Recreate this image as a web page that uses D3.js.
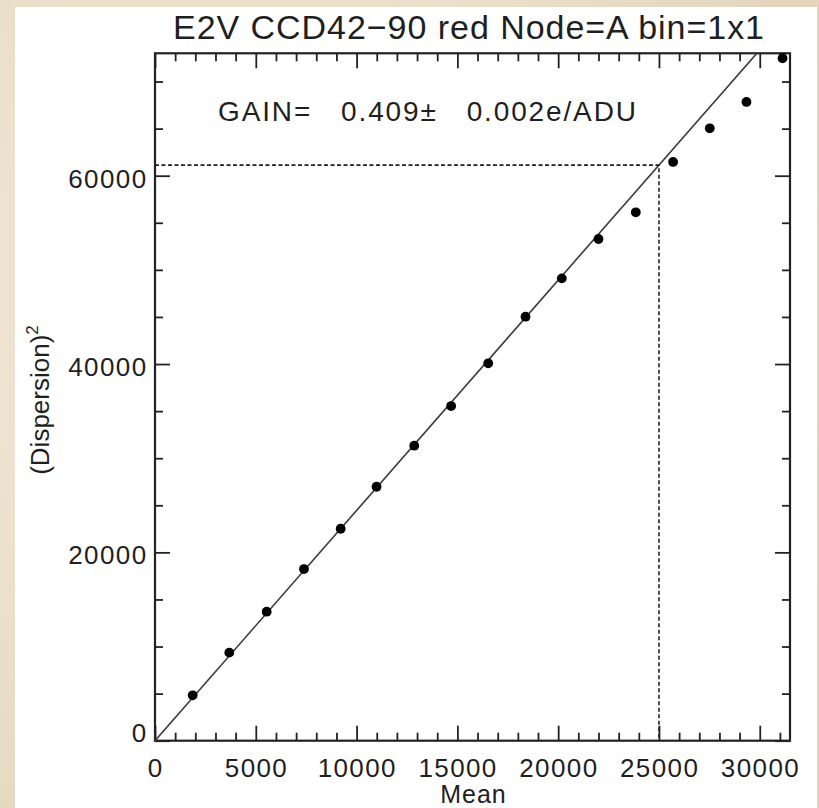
<!DOCTYPE html>
<html>
<head>
<meta charset="utf-8">
<script src="https://cdn.jsdelivr.net/npm/d3@7"></script>
<style>
  html, body { margin: 0; padding: 0; background: #ece1cd; }
  svg { display: block; }
  text { font-family: "Liberation Sans", Arial, sans-serif; fill: #1f1f1f; }
</style>
</head>
<body>
<svg id="chart" width="819" height="808"></svg>
<script>
// ---- data ----
const meanValues = [1870, 3685, 5540, 7390, 9210, 10990, 12860, 14690, 16530, 18380, 20180, 22000, 23850, 25700, 27520, 29340, 31130];
const dispersionSq = [4820, 9350, 13700, 18230, 22510, 26970, 31330, 35540, 40080, 45030, 49100, 53280, 56110, 61460, 65030, 67830, 72470];
const gain = 0.409;
const gainErr = 0.002;
const markerMean = 25000;
const xTickLabels = [0, 5000, 10000, 15000, 20000, 25000, 30000];
const yTickLabels = [0, 20000, 40000, 60000];
const xDomain = [0, 31500];
const yDomain = [0, 73000];
const titleText = "E2V CCD42\u221290 red Node=A bin=1x1";
const xLabel = "Mean";
const yLabel = "(Dispersion)";

const svg = d3.select("#chart");

// background with a soft marble-like feel
const defs = svg.append("defs");
const g1 = defs.append("radialGradient").attr("id", "bg1").attr("cx", "30%").attr("cy", "40%").attr("r", "80%");
g1.append("stop").attr("offset", "0%").attr("stop-color", "#f2eadb");
g1.append("stop").attr("offset", "60%").attr("stop-color", "#eadfca");
g1.append("stop").attr("offset", "100%").attr("stop-color", "#e3d5bc");
svg.append("rect").attr("width", 819).attr("height", 808).attr("fill", "url(#bg1)");

// white sheet
svg.append("rect").attr("x", 15).attr("y", 7).attr("width", 802).attr("height", 801).attr("fill", "#ffffff");

const L = 155, R = 790, B = 740.7;
const x = d3.scaleLinear().domain(xDomain).range([L, R]);
const yScaleK = (B - 175.7) / 60000;
const T = B - yDomain[1] * yScaleK;
const y = d3.scaleLinear().domain(yDomain).range([B, T]);

const clip = defs.append("clipPath").attr("id", "plotclip");
clip.append("rect").attr("x", L).attr("y", T).attr("width", R - L).attr("height", B - T);

// axes with ticks (major + minor), mirrored on all four sides
function addAxis(axisGen, transform) {
  const g = svg.append("g").attr("transform", transform).call(axisGen);
  g.select(".domain").remove();
  g.selectAll(".tick line").attr("stroke", "#222").attr("stroke-width", 1.8);
  return g;
}
const xMajor = d3.range(0, xDomain[1] + 1, 5000);
const xMinor = d3.range(0, xDomain[1] + 1, 1000).filter(v => v % 5000 !== 0);
const yMajor = d3.range(0, yDomain[1] + 1, 20000);
const yMinor = d3.range(0, yDomain[1] + 1, 5000).filter(v => v % 20000 !== 0);

// bottom
addAxis(d3.axisTop(x).tickValues(xMinor).tickSize(8).tickFormat(""), `translate(0,${B})`);
addAxis(d3.axisTop(x).tickValues(xMajor).tickSize(15).tickFormat(""), `translate(0,${B})`);
// top
addAxis(d3.axisBottom(x).tickValues(xMinor).tickSize(8).tickFormat(""), `translate(0,${T})`);
addAxis(d3.axisBottom(x).tickValues(xMajor).tickSize(15).tickFormat(""), `translate(0,${T})`);
// left
addAxis(d3.axisRight(y).tickValues(yMinor).tickSize(8).tickFormat(""), `translate(${L},0)`);
addAxis(d3.axisRight(y).tickValues(yMajor).tickSize(15).tickFormat(""), `translate(${L},0)`);
// right
addAxis(d3.axisLeft(y).tickValues(yMinor).tickSize(8).tickFormat(""), `translate(${R},0)`);
addAxis(d3.axisLeft(y).tickValues(yMajor).tickSize(15).tickFormat(""), `translate(${R},0)`);

// tick labels
svg.append("g").selectAll("text").data(xTickLabels).join("text")
  .attr("x", d => x(d) + 0.7).attr("y", 777)
  .attr("text-anchor", "middle").attr("font-size", 26).attr("letter-spacing", 1.4)
  .text(d => d);
svg.append("g").selectAll("text").data(yTickLabels).join("text")
  .attr("x", 147.5).attr("y", d => d === 0 ? y(d) + 1 : y(d) + 12)
  .attr("text-anchor", "end").attr("font-size", 26).attr("letter-spacing", 1.4)
  .text(d => d);

// frame
svg.append("rect").attr("x", L).attr("y", T).attr("width", R - L).attr("height", B - T)
  .attr("fill", "none").attr("stroke", "#222").attr("stroke-width", 2.2);

const plot = svg.append("g").attr("clip-path", "url(#plotclip)");

// fit line: dispersion^2 = mean / gain
const lineData = [xDomain[0], xDomain[1]].map(m => [m, m / gain]);
plot.append("path")
  .datum(lineData)
  .attr("d", d3.line().x(d => x(d[0])).y(d => y(d[1])))
  .attr("fill", "none").attr("stroke", "#3a3a3a").attr("stroke-width", 1.6);

// dotted guide lines at mean = 25000
const markY = markerMean / gain;
plot.append("path")
  .datum([[xDomain[0], markY], [markerMean, markY], [markerMean, yDomain[0]]])
  .attr("d", d3.line().x(d => x(d[0])).y(d => y(d[1])))
  .attr("fill", "none").attr("stroke", "#222").attr("stroke-width", 1.6)
  .attr("stroke-dasharray", "4,2.5");

// data points
const pts = meanValues.map((m, i) => ({ m, v: dispersionSq[i] }));
svg.append("g").selectAll("circle").data(pts).join("circle")
  .attr("cx", d => x(d.m)).attr("cy", d => y(d.v)).attr("r", 4.9)
  .attr("fill", "#000");

// title
svg.append("text").attr("x", 173).attr("y", 39).attr("font-size", 34)
  .attr("textLength", 591).attr("lengthAdjust", "spacing")
  .text(titleText);

// gain annotation
svg.append("text").attr("x", 218).attr("y", 121).attr("font-size", 28)
  .attr("textLength", 418).attr("lengthAdjust", "spacing")
  .style("white-space", "pre")
  .text(`GAIN=   ${gain.toFixed(3)}\u00b1   ${gainErr.toFixed(3)}e/ADU`);

// axis titles
svg.append("text").attr("x", x(15800)).attr("y", 803).attr("text-anchor", "middle")
  .attr("font-size", 25).attr("letter-spacing", 1).text(xLabel);

const yl = svg.append("text").attr("transform", "translate(49,400) rotate(-90)")
  .attr("text-anchor", "middle").attr("font-size", 26);
yl.append("tspan").text(yLabel);
yl.append("tspan").attr("font-size", 17).attr("dy", -11).text("2");
</script>
</body>
</html>
